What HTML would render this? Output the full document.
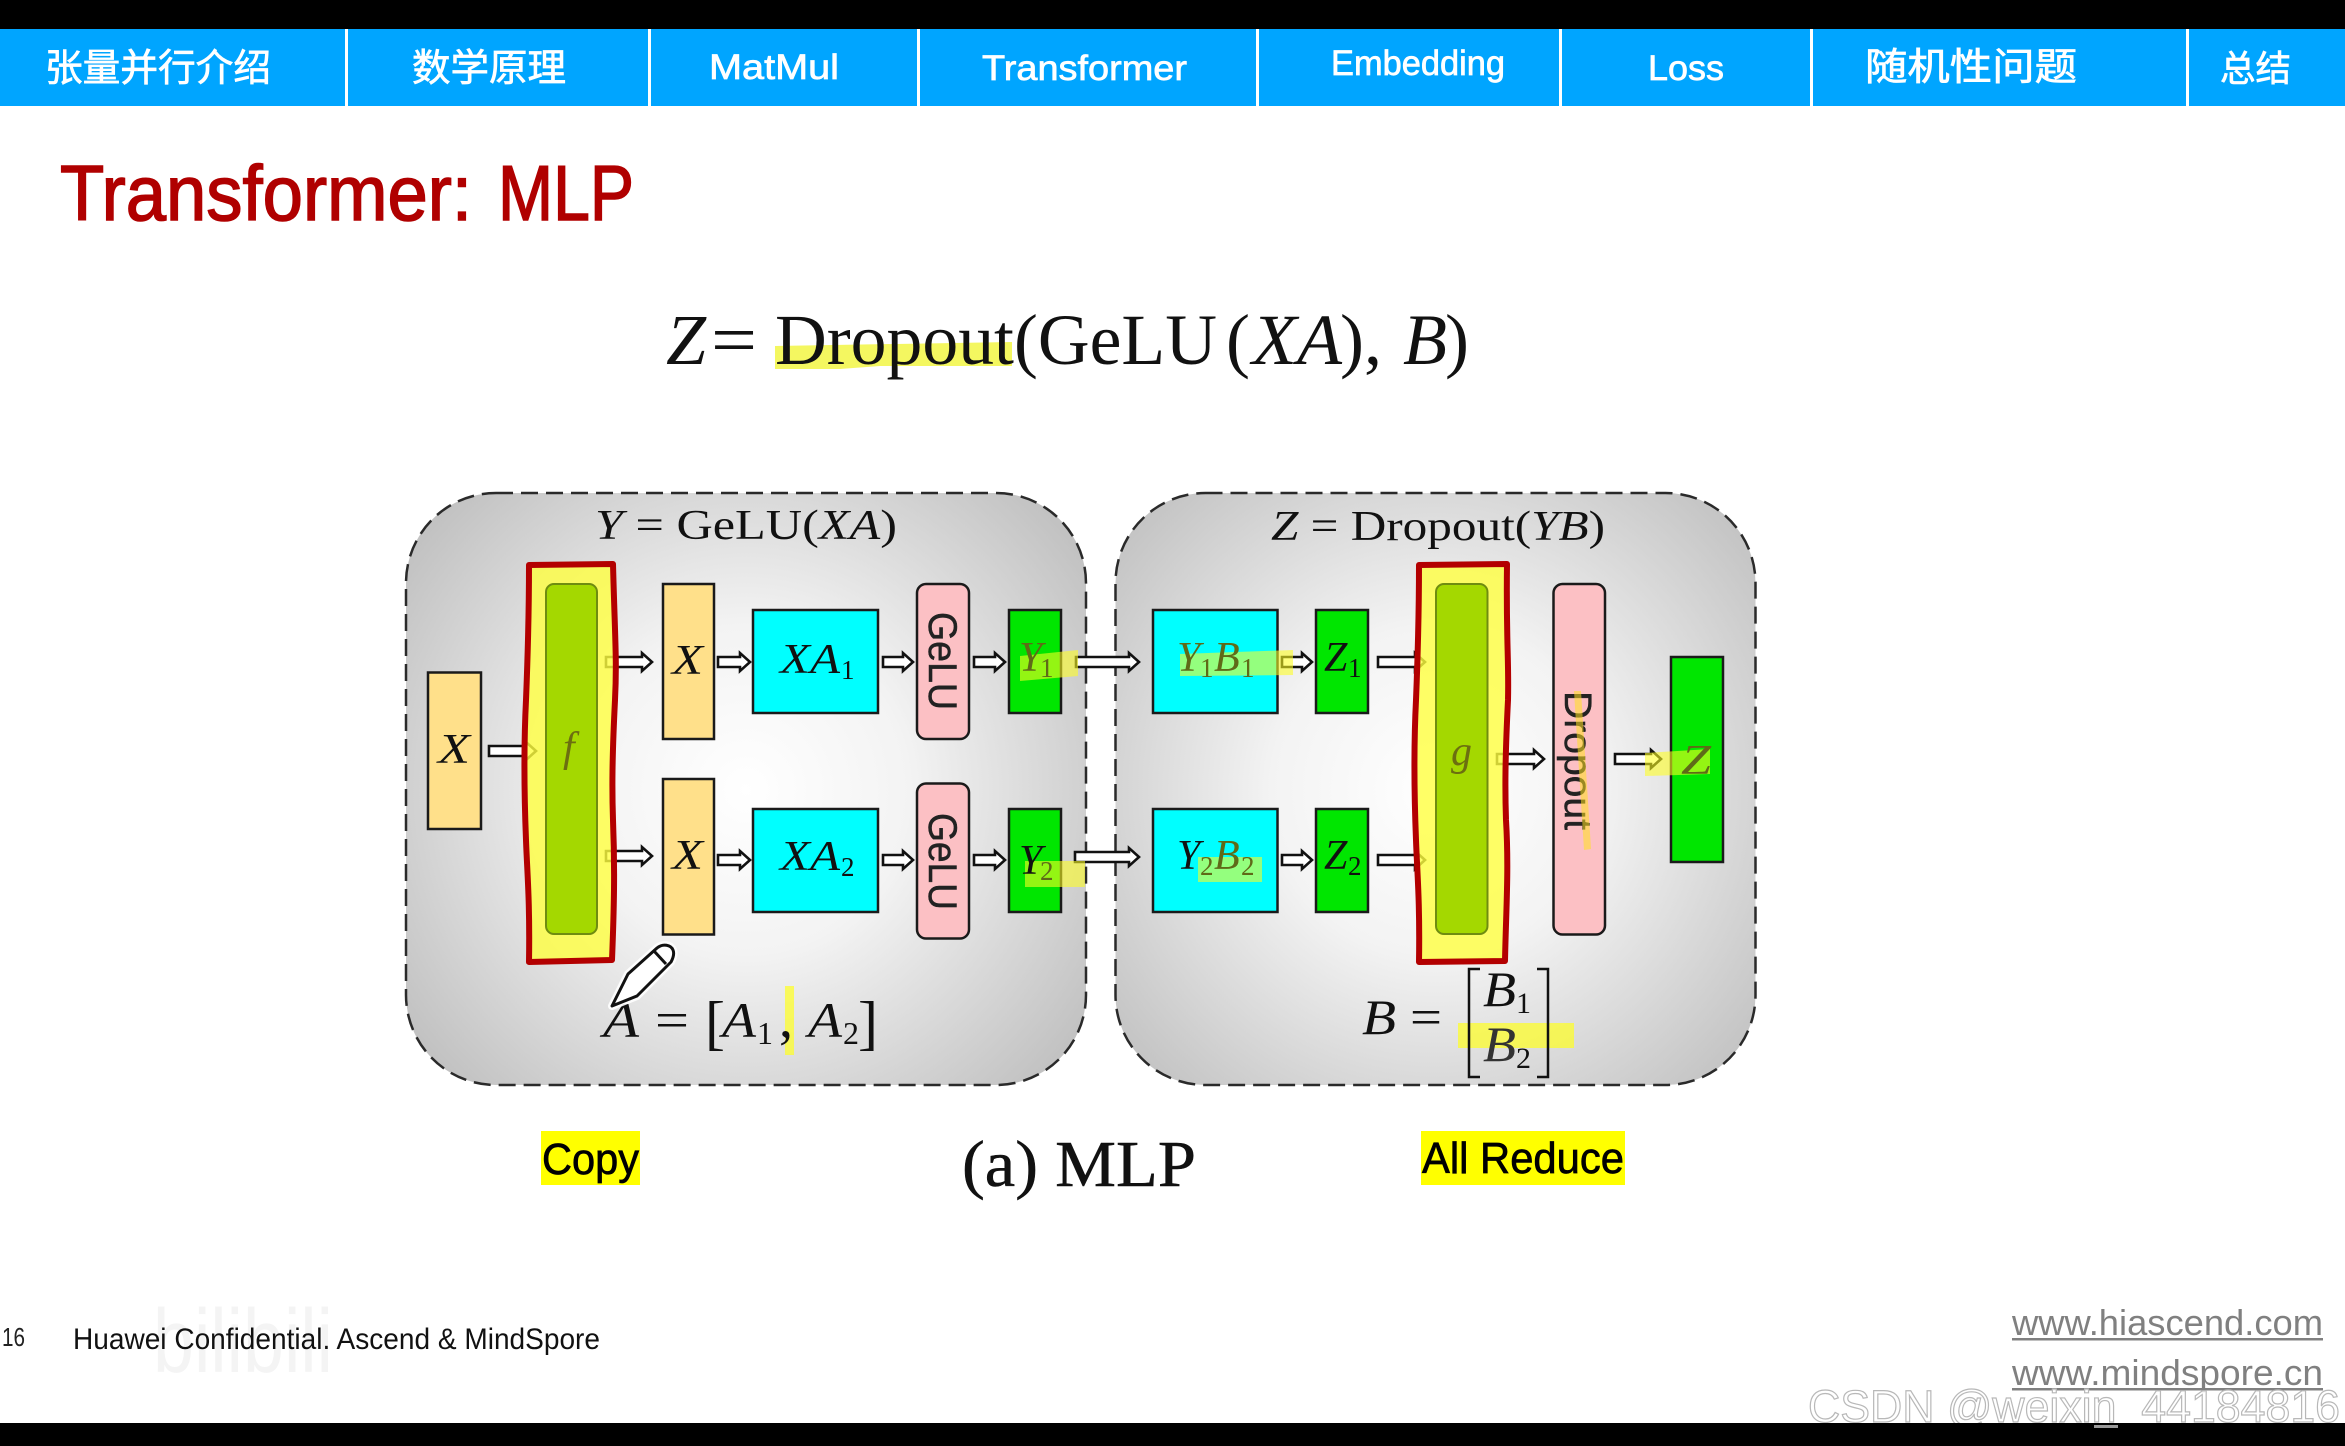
<!DOCTYPE html>
<html><head><meta charset="utf-8"><title>Transformer: MLP</title>
<style>html,body{margin:0;padding:0;background:#fff;width:2345px;height:1446px;overflow:hidden}
svg{display:block}
.m{font-family:"Liberation Serif",serif}
.i{font-family:"Liberation Serif",serif;font-style:italic}
.s{font-family:"Liberation Sans",sans-serif}
.c{font-family:"Liberation Sans","Noto Sans CJK SC",sans-serif}
.a{fill:#fff;stroke:#111;stroke-width:2.6}
.b{stroke:#1a1a1a;stroke-width:2.5}
</style></head><body>
<svg width="2345" height="1446" viewBox="0 0 2345 1446" xmlns="http://www.w3.org/2000/svg">
<defs>
<radialGradient id="p1" gradientUnits="userSpaceOnUse" cx="746" cy="790" r="470"><stop offset="0" stop-color="#ffffff"/><stop offset=".35" stop-color="#f3f3f3"/><stop offset="1" stop-color="#b6b6b6"/></radialGradient>
<radialGradient id="p2" gradientUnits="userSpaceOnUse" cx="1435" cy="790" r="470"><stop offset="0" stop-color="#ffffff"/><stop offset=".35" stop-color="#f3f3f3"/><stop offset="1" stop-color="#b6b6b6"/></radialGradient>
</defs>
<rect width="2345" height="1446" fill="#fff"/>
<rect width="2345" height="29" fill="#000"/>
<rect y="29" width="2345" height="77" fill="#00a5ff"/>
<g fill="#fff">
<rect x="345" y="29" width="3" height="77"/><rect x="648" y="29" width="3" height="77"/><rect x="917" y="29" width="3" height="77"/><rect x="1256" y="29" width="3" height="77"/><rect x="1559" y="29" width="3" height="77"/><rect x="1810" y="29" width="3" height="77"/><rect x="2186" y="29" width="3" height="77"/>
</g>
<g fill="#fff" stroke="#fff" stroke-width=".7" class="c">
<text x="45" y="81" font-size="38" textLength="226" lengthAdjust="spacingAndGlyphs">张量并行介绍</text>
<text x="412" y="81" font-size="38" textLength="154" lengthAdjust="spacingAndGlyphs">数学原理</text>
<text x="709" y="79" font-size="35" textLength="130" lengthAdjust="spacingAndGlyphs">MatMul</text>
<text x="982" y="80" font-size="35" textLength="205" lengthAdjust="spacingAndGlyphs">Transformer</text>
<text x="1331" y="75" font-size="35" textLength="174" lengthAdjust="spacingAndGlyphs">Embedding</text>
<text x="1648" y="80" font-size="35" textLength="76" lengthAdjust="spacingAndGlyphs">Loss</text>
<text x="1865" y="80" font-size="38" textLength="212" lengthAdjust="spacingAndGlyphs">随机性问题</text>
<text x="2220" y="81" font-size="36" textLength="71" lengthAdjust="spacingAndGlyphs">总结</text>
</g>
<g font-size="78" fill="#b00000" stroke="#b00000" stroke-width="1.5" class="s">
<text x="60" y="220" textLength="412" lengthAdjust="spacingAndGlyphs">Transformer:</text>
<text x="498" y="220" textLength="136" lengthAdjust="spacingAndGlyphs">MLP</text>
</g>

<path d="M775 346 L1012 342 L1012 366 L880 366 L840 369 L775 369Z" fill="#f4f760"/>
<g font-size="72" fill="#111">
<text x="666" y="364" class="i" textLength="40" lengthAdjust="spacingAndGlyphs">Z</text>
<text x="711" y="364" class="m" textLength="46" lengthAdjust="spacingAndGlyphs">=</text>
<text x="775" y="364" class="m" textLength="442" lengthAdjust="spacingAndGlyphs">Dropout(GeLU</text>
<text x="1226" y="364" class="m">(</text>
<text x="1252" y="364" class="i" textLength="90" lengthAdjust="spacingAndGlyphs">XA</text>
<text x="1340" y="364" class="m">),</text>
<text x="1403" y="364" class="i" textLength="44" lengthAdjust="spacingAndGlyphs">B</text>
<text x="1445" y="364" class="m">)</text>
</g>

<rect x="406" y="493" width="680" height="592" rx="90" ry="90" fill="url(#p1)" stroke="#2a2a2a" stroke-width="2.5" stroke-dasharray="17 8"/>
<rect x="1115.5" y="493" width="640" height="592" rx="90" ry="90" fill="url(#p2)" stroke="#2a2a2a" stroke-width="2.5" stroke-dasharray="17 8"/>

<!-- arrows under the overlays -->
<polygon class="a" points="489,746 526,746 526,742 536,751 526,760 526,756 489,756"/>
<polygon class="a" points="606,657 642,657 642,653 652,662 642,671 642,667 606,667"/>
<polygon class="a" points="606,851 642,851 642,847 652,856 642,865 642,861 606,861"/>
<polygon class="a" points="1378,657 1415,657 1415,653 1425,662 1415,671 1415,667 1378,667"/>
<polygon class="a" points="1378,855 1415,855 1415,851 1425,860 1415,869 1415,865 1378,865"/>
<polygon class="a" points="1497,754 1534,754 1534,750 1544,759 1534,768 1534,764 1497,764"/>

<!-- left overlays -->
<path d="M529 565 L613 564 L616 680 L612 800 L615 880 L612 960 L529 962 L526 860 L525 780 L527 680Z" fill="#ffff40" fill-opacity=".8"/>
<path d="M529 565 L613 564 C615 640 617 660 615 700 C612 760 612 790 613 820 C615 870 614 910 612 960 L529 962 C530 900 527 870 526 840 C524 790 524 740 526 700 C528 650 529 610 529 565Z" fill="none" stroke="#b30000" stroke-width="6" stroke-linejoin="round"/>
<rect x="546" y="584" width="51" height="350" rx="8" fill="#a4d800" stroke="#6f8c10" stroke-width="2"/>
<text x="563" y="761" font-size="42" class="i" fill="#6c6f10">f</text>

<!-- right overlays -->
<path d="M1419 565 L1507 564 L1508 680 L1505 800 L1508 880 L1504 960 L1419 962 L1417 860 L1415 780 L1418 680Z" fill="#ffff40" fill-opacity=".8"/>
<path d="M1419 565 L1507 564 C1506 640 1509 660 1508 700 C1505 760 1505 790 1506 820 C1509 870 1506 910 1505 961 L1419 962 C1420 900 1417 870 1416 840 C1414 790 1414 740 1416 700 C1418 650 1419 610 1419 565Z" fill="none" stroke="#b30000" stroke-width="6" stroke-linejoin="round"/>
<rect x="1436" y="584" width="51.5" height="350" rx="8" fill="#a4d800" stroke="#6f8c10" stroke-width="2"/>
<text x="1451" y="765" font-size="42" class="i" fill="#6c6f10">g</text>

<!-- boxes -->
<g class="b">
<rect x="428" y="672.5" width="53" height="156.5" fill="#ffe08a"/>
<rect x="663" y="584" width="51" height="155" fill="#ffe08a"/>
<rect x="663" y="779" width="51" height="155.5" fill="#ffe08a"/>
<rect x="753" y="610" width="125" height="103" fill="#00ffff"/>
<rect x="753" y="809" width="125" height="103" fill="#00ffff"/>
<rect x="917" y="584" width="52" height="155" rx="9" fill="#fcc0c4"/>
<rect x="917" y="783.5" width="52" height="155" rx="9" fill="#fcc0c4"/>
<rect x="1009" y="610" width="52" height="103" fill="#00e600"/>
<rect x="1009" y="809" width="52" height="103" fill="#00e600"/>
<rect x="1153" y="610" width="124.5" height="103" fill="#00ffff"/>
<rect x="1153" y="809" width="124.5" height="103" fill="#00ffff"/>
<rect x="1316" y="610" width="52" height="103" fill="#00e600"/>
<rect x="1316" y="809" width="52" height="103" fill="#00e600"/>
<rect x="1553.5" y="584" width="51.5" height="350.5" rx="9" fill="#fcc0c4"/>
<rect x="1671" y="657" width="52" height="205" fill="#00e600"/>
</g>

<!-- other arrows -->
<polygon class="a" points="718,657 740,657 740,653 750,662 740,671 740,667 718,667"/>
<polygon class="a" points="718,855 740,855 740,851 750,860 740,869 740,865 718,865"/>
<polygon class="a" points="883,657 903,657 903,653 913,662 903,671 903,667 883,667"/>
<polygon class="a" points="883,855 903,855 903,851 913,860 903,869 903,865 883,865"/>
<polygon class="a" points="974,657 995,657 995,653 1005,662 995,671 995,667 974,667"/>
<polygon class="a" points="974,855 995,855 995,851 1005,860 995,869 995,865 974,865"/>
<polygon class="a" points="1076,657 1129,657 1129,653 1139,662 1129,671 1129,667 1076,667"/>
<polygon class="a" points="1075,852 1129,852 1129,848 1139,857 1129,866 1129,862 1075,862"/>
<polygon class="a" points="1282,657 1302,657 1302,653 1312,662 1302,671 1302,667 1282,667"/>
<polygon class="a" points="1282,855 1302,855 1302,851 1312,860 1302,869 1302,865 1282,865"/>
<polygon class="a" points="1615,754 1651,754 1651,750 1661,759 1651,768 1651,764 1615,764"/>

<!-- highlights sit under the labels so the text stays legible -->
<g fill="#ffff20" fill-opacity=".58">
<path d="M1020 656 L1078 650 L1078 676 L1020 681Z"/>
<rect x="1025" y="861" width="60" height="26"/>
<path d="M1180 654 L1293 650 L1293 675 L1180 676Z"/>
<rect x="1198" y="857" width="64" height="25"/>
<path d="M1645 753 L1710 749 L1710 774 L1645 776Z"/>
<rect x="1458" y="1023" width="116" height="25" fill-opacity=".7"/>
<rect x="785" y="986" width="9" height="69" fill-opacity=".7"/>
</g>

<!-- math labels -->
<g fill="#111" font-size="42">
<text x="595" y="539" class="m" textLength="302" lengthAdjust="spacingAndGlyphs"><tspan class="i">Y</tspan> = GeLU(<tspan class="i">XA</tspan>)</text>
<text x="1271" y="540" class="m" textLength="334" lengthAdjust="spacingAndGlyphs"><tspan class="i">Z</tspan> = Dropout(<tspan class="i">YB</tspan>)</text>
<text x="438" y="763" class="i" textLength="32" lengthAdjust="spacingAndGlyphs">X</text>
<text x="672" y="674" class="i" textLength="31" lengthAdjust="spacingAndGlyphs">X</text>
<text x="672" y="869" class="i" textLength="31" lengthAdjust="spacingAndGlyphs">X</text>
<text x="780" y="673" class="i" textLength="60" lengthAdjust="spacingAndGlyphs">XA</text><text x="841" y="679" font-size="27" class="m">1</text>
<text x="780" y="870" class="i" textLength="60" lengthAdjust="spacingAndGlyphs">XA</text><text x="841" y="876" font-size="27" class="m">2</text>
<text x="1177" y="671" class="i" fill="#5f6a18">Y</text><text x="1200" y="677" font-size="27" class="m" fill="#5f6a18">1</text><text x="1214" y="671" class="i" fill="#5f6a18">B</text><text x="1241" y="677" font-size="27" class="m" fill="#5f6a18">1</text>
<text x="1177" y="869" class="i">Y</text><text x="1200" y="875" font-size="27" class="m" fill="#5f6a18">2</text><text x="1214" y="869" class="i" fill="#5f6a18">B</text><text x="1241" y="875" font-size="27" class="m" fill="#5f6a18">2</text>
<text x="1324" y="671" class="i">Z</text><text x="1348" y="677" font-size="27" class="m">1</text>
<text x="1324" y="869" class="i">Z</text><text x="1348" y="875" font-size="27" class="m">2</text>
<text x="1019" y="671" class="i" fill="#5f6a18">Y</text><text x="1040" y="677" font-size="27" class="m" fill="#5f6a18">1</text>
<text x="1019" y="874" class="i">Y</text><text x="1040" y="880" font-size="27" class="m" fill="#5f6a18">2</text>
<text x="1681" y="774" class="i" textLength="30" lengthAdjust="spacingAndGlyphs" fill="#5f6a18">Z</text>
<text x="603" y="1037" font-size="50" class="i" textLength="36" lengthAdjust="spacingAndGlyphs">A</text>
<text x="655" y="1037" font-size="50" class="m" textLength="34" lengthAdjust="spacingAndGlyphs">=</text>
<text x="705" y="1043" font-size="60" class="m">[</text>
<text x="722" y="1037" font-size="50" class="i" textLength="34" lengthAdjust="spacingAndGlyphs">A</text><text x="757" y="1044" font-size="32" class="m">1</text>
<text x="779" y="1037" font-size="56" class="m">,</text>
<text x="808" y="1037" font-size="50" class="i" textLength="34" lengthAdjust="spacingAndGlyphs">A</text><text x="843" y="1044" font-size="32" class="m">2</text>
<text x="858" y="1043" font-size="60" class="m">]</text>
<text x="1362" y="1034" font-size="50" class="i" textLength="34" lengthAdjust="spacingAndGlyphs">B</text>
<text x="1410" y="1034" font-size="50" class="m" textLength="32" lengthAdjust="spacingAndGlyphs">=</text>
<text x="1483" y="1006" font-size="50" class="i" textLength="33" lengthAdjust="spacingAndGlyphs">B</text><text x="1516" y="1013" font-size="30" class="m">1</text>
<text x="1483" y="1061" font-size="50" class="i" textLength="33" lengthAdjust="spacingAndGlyphs" fill="#333">B</text><text x="1516" y="1068" font-size="30" class="m">2</text>
</g>
<path d="M1480 969H1469V1077H1480M1537 969H1548V1077H1537" fill="none" stroke="#111" stroke-width="2.5"/>

<g font-size="40" fill="#222" stroke="#222" stroke-width=".5" class="s">
<text transform="translate(929 612) rotate(90)" textLength="98" lengthAdjust="spacingAndGlyphs">GeLU</text>
<text transform="translate(929 813) rotate(90)" textLength="97" lengthAdjust="spacingAndGlyphs">GeLU</text>
<text transform="translate(1565 691) rotate(90)" font-size="38" textLength="139" lengthAdjust="spacingAndGlyphs">Dropout</text>
</g>
<path d="M1574 691 L1581 691 L1591 849 L1584 850Z" fill="#ffe020" fill-opacity=".55"/>

<!-- pen -->
<path d="M612 1006 L628 974 L657 948 C663 943 671 945 673 950 C675 955 672 960 671 962 L637 996Z" fill="#fff" stroke="#fff" stroke-width="8" stroke-linejoin="round" opacity=".9"/>
<path d="M612 1006 L628 974 L657 948 C663 943 671 945 673 950 C675 955 672 960 671 962 L637 996Z M654 951 L666 964" fill="#fff" stroke="#111" stroke-width="3" stroke-linejoin="round"/>

<!-- footer texts -->
<rect x="541" y="1131" width="99" height="54" fill="#ffff00"/>
<rect x="1421" y="1131" width="204" height="54" fill="#ffff00"/>
<text x="542" y="1174" font-size="44" fill="#000" stroke="#000" stroke-width=".7" class="s" textLength="97" lengthAdjust="spacingAndGlyphs">Copy</text>
<text x="1422" y="1173" font-size="44" fill="#000" stroke="#000" stroke-width=".7" class="s" textLength="202" lengthAdjust="spacingAndGlyphs">All Reduce</text>
<text x="962" y="1186" font-size="66" fill="#111" stroke="#111" stroke-width=".5" class="m" textLength="234" lengthAdjust="spacingAndGlyphs">(a) MLP</text>

<text x="153" y="1372" font-size="90" fill="#f4f4f4" class="s" textLength="180" lengthAdjust="spacingAndGlyphs">bilibili</text>
<text x="2" y="1346" font-size="26" fill="#222" class="s" textLength="23" lengthAdjust="spacingAndGlyphs">16</text>
<text x="73" y="1349" font-size="30" fill="#111" class="s" textLength="527" lengthAdjust="spacingAndGlyphs">Huawei Confidential. Ascend &amp; MindSpore</text>

<g fill="#808080" font-size="36" class="s">
<text x="2012" y="1335" textLength="311" lengthAdjust="spacingAndGlyphs">www.hiascend.com</text>
<text x="2012" y="1385" textLength="311" lengthAdjust="spacingAndGlyphs">www.mindspore.cn</text>
<rect x="2012" y="1338" width="311" height="2.5"/>
<rect x="2012" y="1388" width="311" height="2.5"/>
</g>
<text x="1808" y="1422" font-size="45" fill="#fff" fill-opacity=".85" stroke="#b8b8b8" stroke-width="1.2" class="s" textLength="532" lengthAdjust="spacingAndGlyphs">CSDN @weixin_44184816</text>
<rect y="1423" width="2345" height="23" fill="#000"/>
<rect x="2094" y="1425" width="24" height="3" fill="#999"/>
</svg>
</body></html>
